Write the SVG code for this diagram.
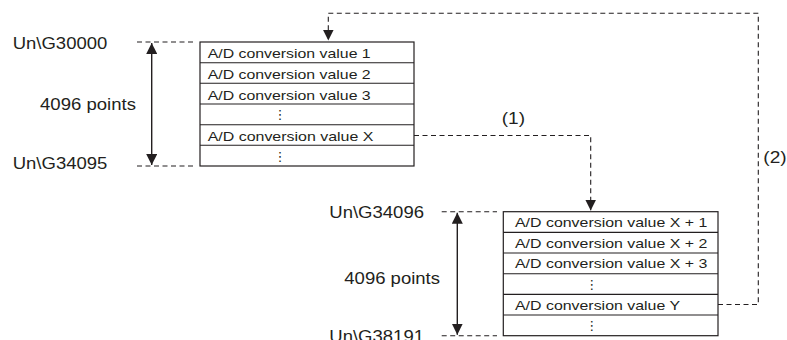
<svg xmlns="http://www.w3.org/2000/svg" width="787" height="340" viewBox="0 0 787 340">
  <style>
    .bg { fill: #ffffff; }
    .cell { fill: #ffffff; stroke: #231f20; stroke-width: 1.2; }
    .row { stroke: #231f20; stroke-width: 1.1; fill: none; }
    .val { font-family: "Liberation Sans", Arial, sans-serif; font-size: 13.5px; fill: #231f20; }
    .lbl { font-family: "Liberation Sans", Arial, sans-serif; font-size: 17px; fill: #231f20; }
    .dots { font-family: "DejaVu Sans", sans-serif; font-size: 13px; fill: #231f20; text-anchor: middle; }
    .dash { fill: none; stroke: #231f20; stroke-width: 1.1; stroke-dasharray: 5 3.5; }
    .span { fill: none; stroke: #231f20; stroke-width: 1.4; }
  </style>
  <defs>
    <marker id="head" viewBox="0 0 10 10" refX="10" refY="5" markerUnits="userSpaceOnUse" markerWidth="11" markerHeight="11" orient="auto-start-reverse">
      <path d="M0,0 L10,5 L0,10 Z" fill="#231f20"/>
    </marker>
  </defs>

  <rect class="bg" x="0" y="0" width="787" height="340"/>

  <!-- first buffer area: Un\G30000 to Un\G34095 -->
  <g id="buffer-1">
    <rect class="cell" x="200" y="42" width="214" height="124"/>
    <path class="row" d="M200,62.7 H414 M200,83.3 H414 M200,104 H414 M200,124.7 H414 M200,145.3 H414"/>
    <text class="val" x="207.7" y="58.3" textLength="163" lengthAdjust="spacingAndGlyphs">A/D conversion value 1</text>
    <text class="val" x="207.7" y="79" textLength="163" lengthAdjust="spacingAndGlyphs">A/D conversion value 2</text>
    <text class="val" x="207.7" y="99.6" textLength="163" lengthAdjust="spacingAndGlyphs">A/D conversion value 3</text>
    <text class="dots" x="280" y="119">⋮</text>
    <text class="val" x="207.7" y="141" textLength="165.7" lengthAdjust="spacingAndGlyphs">A/D conversion value X</text>
    <text class="dots" x="280" y="160.5">⋮</text>
  </g>

  <g id="range-1">
    <text class="lbl" x="12.7" y="48.5" textLength="94.6" lengthAdjust="spacingAndGlyphs">Un\G30000</text>
    <text class="lbl" x="40" y="110" textLength="96" lengthAdjust="spacingAndGlyphs">4096 points</text>
    <text class="lbl" x="12.7" y="169.3" textLength="94.7" lengthAdjust="spacingAndGlyphs">Un\G34095</text>
    <path class="dash" d="M137,42 H194"/>
    <path class="dash" d="M137,166 H194"/>
    <path class="span" d="M151.7,43 V165" marker-start="url(#head)" marker-end="url(#head)"/>
  </g>

  <!-- second buffer area: Un\G34096 to Un\G38191 -->
  <g id="buffer-2">
    <rect class="cell" x="503.3" y="211.7" width="214.7" height="124"/>
    <path class="row" d="M503.3,232.4 H718 M503.3,253 H718 M503.3,273.7 H718 M503.3,294.4 H718 M503.3,315 H718"/>
    <text class="val" x="515" y="227" textLength="192.3" lengthAdjust="spacingAndGlyphs">A/D conversion value X + 1</text>
    <text class="val" x="515" y="247.7" textLength="192.3" lengthAdjust="spacingAndGlyphs">A/D conversion value X + 2</text>
    <text class="val" x="515" y="268.3" textLength="192.3" lengthAdjust="spacingAndGlyphs">A/D conversion value X + 3</text>
    <text class="dots" x="591.7" y="288.7">⋮</text>
    <text class="val" x="515" y="310" textLength="165" lengthAdjust="spacingAndGlyphs">A/D conversion value Y</text>
    <text class="dots" x="591.7" y="330.2">⋮</text>
  </g>

  <g id="range-2">
    <text class="lbl" x="329.3" y="218.3" textLength="94.7" lengthAdjust="spacingAndGlyphs">Un\G34096</text>
    <text class="lbl" x="344.3" y="284.3" textLength="95.7" lengthAdjust="spacingAndGlyphs">4096 points</text>
    <text class="lbl" x="329.3" y="342" textLength="94.7" lengthAdjust="spacingAndGlyphs">Un\G38191</text>
    <path class="dash" d="M441.7,211.7 H497"/>
    <path class="dash" d="M441.7,335.7 H497"/>
    <path class="span" d="M457.3,212.7 V334.7" marker-start="url(#head)" marker-end="url(#head)"/>
  </g>

  <!-- write order connectors -->
  <g id="connectors">
    <path class="dash" d="M414,135.5 H590.7 V210.5" marker-end="url(#head)"/>
    <text class="lbl" x="501.7" y="124" textLength="23.3" lengthAdjust="spacingAndGlyphs">(1)</text>
    <path class="dash" d="M718,304.5 H758.3 V13.3 H328.3 V40.5" marker-end="url(#head)"/>
    <text class="lbl" x="763.3" y="163" textLength="23.3" lengthAdjust="spacingAndGlyphs">(2)</text>
  </g>
</svg>
